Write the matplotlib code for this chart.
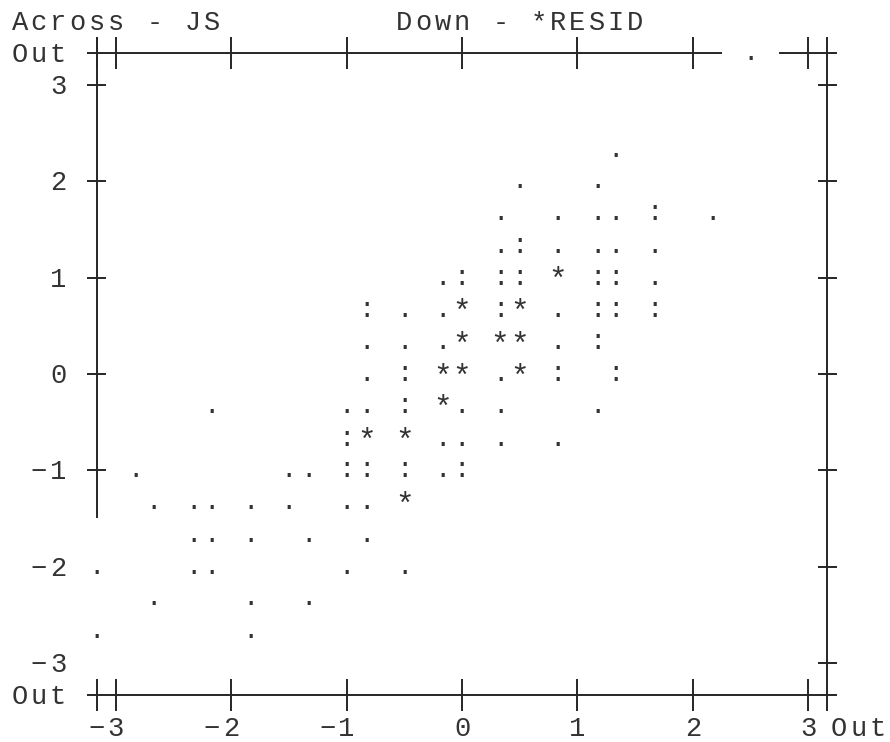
import matplotlib.pyplot as plt

# line-printer style scatterplot: Across - JS, Down - *RESID
# one entry per printed cell, cases = number of cases in that cell
# rows from top to bottom
js = [2.5,
      1.33,
      0.5, 1.17,
      0.33, 0.83, 1.17, 1.33, 1.67, 2.17,
      0.33, 0.5, 0.83, 1.17, 1.33, 1.67,
      -0.17, 0, 0.33, 0.5, 0.83, 1.17, 1.33, 1.67,
      -0.83, -0.5, -0.17, 0, 0.33, 0.5, 0.83, 1.17, 1.33, 1.67,
      -0.83, -0.5, -0.17, 0, 0.33, 0.5, 0.83, 1.17,
      -0.83, -0.5, -0.17, 0, 0.33, 0.5, 0.83, 1.33,
      -2.17, -1, -0.83, -0.5, -0.17, 0, 0.33, 1.17,
      -1, -0.83, -0.5, -0.17, 0, 0.33, 0.83,
      -2.83, -1.5, -1.33, -1, -0.83, -0.5, -0.17, 0,
      -2.67, -2.33, -2.17, -1.83, -1.5, -1, -0.83, -0.5,
      -2.33, -2.17, -1.83, -1.33, -0.83,
      -3.17, -2.33, -2.17, -1, -0.5,
      -2.67, -1.83, -1.33,
      -3.17, -1.83]
resid = [3.33,
         2.33,
         2, 2,
         1.67, 1.67, 1.67, 1.67, 1.67, 1.67,
         1.33, 1.33, 1.33, 1.33, 1.33, 1.33,
         1, 1, 1, 1, 1, 1, 1, 1,
         0.67, 0.67, 0.67, 0.67, 0.67, 0.67, 0.67, 0.67, 0.67, 0.67,
         0.33, 0.33, 0.33, 0.33, 0.33, 0.33, 0.33, 0.33,
         0, 0, 0, 0, 0, 0, 0, 0,
         -0.33, -0.33, -0.33, -0.33, -0.33, -0.33, -0.33, -0.33,
         -0.67, -0.67, -0.67, -0.67, -0.67, -0.67, -0.67,
         -1, -1, -1, -1, -1, -1, -1, -1,
         -1.33, -1.33, -1.33, -1.33, -1.33, -1.33, -1.33, -1.33,
         -1.67, -1.67, -1.67, -1.67, -1.67,
         -2, -2, -2, -2, -2,
         -2.33, -2.33, -2.33,
         -2.67, -2.67]
cases = [1,
         1,
         1, 1,
         1, 1, 1, 1, 2, 1,
         1, 2, 1, 1, 1, 1,
         1, 2, 2, 2, 3, 2, 2, 1,
         2, 1, 1, 3, 2, 3, 1, 2, 2, 2,
         1, 1, 1, 3, 3, 3, 1, 2,
         1, 2, 3, 3, 1, 3, 2, 2,
         1, 1, 1, 2, 3, 1, 1, 1,
         2, 3, 3, 1, 1, 1, 1,
         1, 1, 1, 2, 2, 2, 1, 2,
         1, 1, 1, 1, 1, 1, 1, 3,
         1, 1, 1, 1, 1,
         1, 1, 1, 1, 1,
         1, 1, 1,
         1, 1]
symbols = {1: '.', 2: ':', 3: '*'}

x_ticks = [-3, -2, -1, 0, 1, 2, 3]
x_labels = ['−3', '−2', '−1', '0', '1', '2', '3']
y_ticks = [3, 2, 1, 0, -1, -2, -3]
y_labels = ['3', '2', '1', '0', '−1', '−2', '−3']
left_axis_ticks = [3, 2, 1, 0, -1]   # the left edge is only printed down to -1.5

COL = 1 / 6   # one character column
ROW = 1 / 3   # one printed line
OUTX = 3 + COL
OUTY = 3 + ROW
FS = 19.5
TXT = '#333333'
LN = '#262626'
FONT = ['Liberation Mono', 'DejaVu Sans Mono']

fig = plt.figure(figsize=(8.9, 7.42), dpi=100)
ax = fig.add_axes([0, 0, 1, 1])
ax.set_xlim(-462 / 115.4, 428 / 115.4)
ax.set_ylim(-368 / 96.3, 374 / 96.3)
ax.axis('off')


def put(x, y, s, dy=-0.093):
    # one character per column, like the printer did
    for i, ch in enumerate(s):
        ax.text(x + i * COL, y + dy, ch, ha='center', va='baseline',
                fontsize=FS, color=TXT, family=FONT)


def put_right(x, y, s):
    put(x - (len(s) - 1) * COL, y, s)


def seg(xs, ys):
    ax.plot(xs, ys, color=LN, lw=1.4, solid_capstyle='butt')


# header
put(-23 * COL, 3 + 2 * ROW, 'Across - JS')
put(-3 * COL, 3 + 2 * ROW, 'Down - *RESID')

# top "Out" line, broken around the point printed on it
top_pts = [x for x, y in zip(js, resid) if y > 3]
gap = top_pts[0] if top_pts else 99
seg([-OUTX - COL / 2, gap - 1.5 * COL], [OUTY, OUTY])
seg([gap + 1.5 * COL, OUTX + COL / 2], [OUTY, OUTY])
seg([-OUTX - COL / 2, OUTX + COL / 2], [-OUTY, -OUTY])

# ticks on top and bottom lines
for t in x_ticks + [-OUTX]:
    seg([t, t], [OUTY - ROW / 2, OUTY + ROW / 2])
    seg([t, t], [-OUTY - ROW / 2, -OUTY + ROW / 2])

# left and right edges
seg([-OUTX, -OUTX], [OUTY + ROW / 2, -1.5])
seg([OUTX, OUTX], [OUTY + ROW / 2, -OUTY - ROW / 2])
for t in left_axis_ticks:
    seg([-OUTX - COL / 2, -OUTX + COL / 2], [t, t])
for t in y_ticks:
    seg([OUTX - COL / 2, OUTX + COL / 2], [t, t])

# labels
for t, lab in zip(y_ticks, y_labels):
    put_right(-3 - 3 * COL, t, lab)
put_right(-3 - 3 * COL, OUTY, 'Out')
put_right(-3 - 3 * COL, -OUTY, 'Out')
for t, lab in zip(x_ticks, x_labels):
    put_right(t, -3 - 2 * ROW, lab)
put(3 + 1.6 * COL, -3 - 2 * ROW, 'Out')

# the points
for x, y, n in zip(js, resid, cases):
    s = symbols[min(n, 3)]
    dy = -0.12 if s == '*' else -0.073
    fs = FS * 1.15 if s == '*' else FS
    ax.text(x, y + dy, s, ha='center', va='baseline', fontsize=fs,
            color=TXT, family=FONT)

plt.savefig('out.png', dpi=100)
